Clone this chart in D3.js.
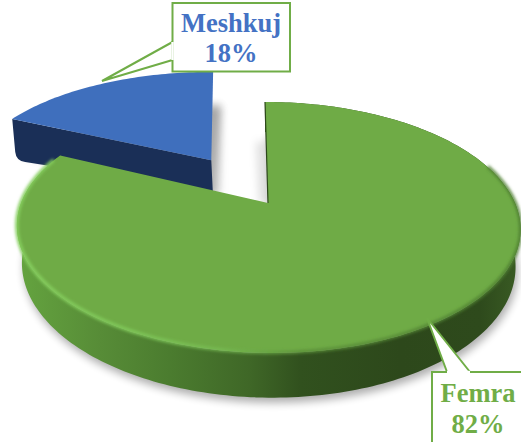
<!DOCTYPE html>
<html>
<head>
<meta charset="utf-8">
<script src="https://cdn.jsdelivr.net/npm/d3@7"></script>
<style>
  html, body { margin: 0; padding: 0; background: #fff; overflow: hidden; }
  text { font-family: "Liberation Serif", serif; font-weight: bold; text-anchor: middle; }
</style>
</head>
<body>
<div id="chart"></div>
<script>
// data
const labels = ["Femra", "Meshkuj"]
const values = [82, 18]
const percents = ["82%", "18%"]
const explode = [0, 0.45]
const stretch = [1, 1.035]   // the blue slice is drawn a bit wider in the original

const topColors = ["#6fab46", "#3f6fbd"]
const labelColors = ["#70ad47", "#4472c4"]

const WIDTH = 521
const HEIGHT = 442

// disc placement, fitted to the picture
const CX = 268
const CY = 203
const RX = 247
const RY = 120.7
const PERSP = 0.195   // how much the back of the disc shrinks
const SKEW = -3.6
const DEPTH = 36

const xScale = d3.scaleLinear().domain([-1, 1]).range([CX - RX, CX + RX])
const yScale = d3.scaleLinear().domain([-1, 1]).range([CY + RY, CY - RY])

const svg = d3.select("#chart").append("svg")
  .attr("width", WIDTH)
  .attr("height", HEIGHT)
  .style("display", "block")

const defs = svg.append("defs")

function blur(id, dev) {
  defs.append("filter").attr("id", id)
    .attr("x", "-20%").attr("y", "-20%").attr("width", "140%").attr("height", "140%")
    .append("feGaussianBlur").attr("stdDeviation", dev)
}
blur("shadowBlur", 4)
blur("edgeBlur", 1.8)

function gradient(id, stops) {
  const g = defs.append("linearGradient").attr("id", id)
    .attr("gradientUnits", "userSpaceOnUse")
    .attr("x1", 0).attr("x2", WIDTH).attr("y1", 0).attr("y2", 0)
  stops.forEach(s => {
    g.append("stop").attr("offset", s[0] / WIDTH).attr("stop-color", s[1]).attr("stop-opacity", s[2] === undefined ? 1 : s[2])
  })
}
gradient("rimGreen", [[20, "#64a33f"], [100, "#578c37"], [170, "#4b7c2f"], [250, "#3f6727"], [300, "#31511e"], [400, "#2d481b"], [480, "#2e4a1c"], [521, "#3a5c24"]])
gradient("bevelGreen", [[15, "#86cf5e", 1], [130, "#7fc759", 1], [220, "#78bd54", 0.8], [300, "#5b9039", 0.9], [521, "#4e7f30", 0.9]])

// depth level h: 0 = top of the disc, 1 = bottom of it
function project(angle, r, h, i, midAngle) {
  const u = explode[i] * Math.sin(midAngle) + r * stretch[i] * Math.sin(angle)
  const v = explode[i] * Math.cos(midAngle) + r * Math.cos(angle)
  const s = 1 / (1 + PERSP * v)
  const shrink = 1 - 0.02 * h
  return [
    CX + (xScale(u * s) - CX) * shrink + SKEW * v * s,
    yScale(v * s) + DEPTH * h * s
  ]
}

const line = d3.line()
const closed = pts => line(pts) + "Z"

function arcPoints(d, i, h, from, to) {
  const mid = (d.startAngle + d.endAngle) / 2
  const n = Math.max(2, Math.ceil(Math.abs(to - from) / 0.02))
  return d3.range(n + 1).map(k => project(from + (to - from) * k / n, 1, h, i, mid))
}

const pie = d3.pie().sort(null)
const slices = pie(values)
const femra = slices[0]
const meshkuj = slices[1]
const bMid = (meshkuj.startAngle + meshkuj.endAngle) / 2

const bApexTop = project(0, 0, 0, 1, bMid)
const bApexBot = project(0, 0, 1, 1, bMid)
const bCornerTop = project(meshkuj.startAngle, 1, 0, 1, bMid)
const bCornerBot = project(meshkuj.startAngle, 1, 1.35, 1, bMid)
const bEndTop = project(meshkuj.endAngle, 1, 0, 1, bMid)

const gApexTop = project(0, 0, 0, 0, 0)
const gStartTop = project(femra.startAngle, 1, 0, 0, 0)

// the blue slice leans a little, its cut edge stands upright in the original
const blueLean = `translate(0,${bApexTop[1]}) skewX(2.6) translate(0,${-bApexTop[1]})`

// soft shadow under both slices
const shadow = svg.append("g").attr("filter", "url(#shadowBlur)").attr("fill", "#000").attr("opacity", 0.32)
slices.forEach((d, i) => {
  const mid = (d.startAngle + d.endAngle) / 2
  const pts = arcPoints(d, i, 1, d.startAngle, d.endAngle)
  pts.push(project(0, 0, 1, i, mid))
  shadow.append("path").attr("d", closed(pts)).attr("transform", "translate(2,5)")
})

// faint shadow in the gap between the two slices
const gapShadow = svg.append("g").attr("filter", "url(#shadowBlur)")
  .attr("fill", "none").attr("stroke", "#000").attr("stroke-opacity", 0.2).attr("stroke-width", 5)
gapShadow.append("path")
  .attr("transform", blueLean)
  .attr("d", line([[bEndTop[0] + 3, bEndTop[1] + 35], [bApexBot[0] + 3, bApexBot[1]]]))
gapShadow.append("path")
  .attr("d", line([[gStartTop[0] - 5, gStartTop[1] + 40], [gApexTop[0] - 5, gApexTop[1]]]))

// ---- Meshkuj ----
const blue = svg.append("g").attr("transform", blueLean)
const face = d3.path()
face.moveTo(bCornerTop[0], bCornerTop[1])
face.lineTo(bApexTop[0], bApexTop[1])
face.lineTo(bApexBot[0] - 1, bApexBot[1] - 2)
face.lineTo(bCornerTop[0] + 11, bCornerBot[1] + 1)
face.quadraticCurveTo(bCornerTop[0] + 2, bCornerBot[1], bCornerTop[0] + 1.5, bCornerBot[1] - 9)
face.closePath()
blue.append("path").attr("d", face.toString()).attr("fill", "#1a2f57")
blue.append("path")
  .attr("d", closed(arcPoints(meshkuj, 1, 0, meshkuj.startAngle, meshkuj.endAngle).concat([bApexTop])))
  .attr("fill", topColors[1])

// ---- Femra ----
const green = svg.append("g")

// rim
green.append("path")
  .attr("d", closed(
    arcPoints(femra, 0, 0, femra.startAngle, femra.endAngle)
      .concat(arcPoints(femra, 0, 1, femra.endAngle, femra.startAngle))))
  .attr("fill", "url(#rimGreen)")

// top face
const topPts = arcPoints(femra, 0, 0, femra.startAngle, femra.endAngle).concat([gApexTop])
green.append("path").attr("d", closed(topPts)).attr("fill", topColors[0])

// bevel along the front edge
green.append("path")
  .attr("d", line(arcPoints(femra, 0, 0, 1.25, 5.1).map(p => [p[0], p[1] - 0.5])))
  .attr("fill", "none")
  .attr("stroke", "url(#bevelGreen)")
  .attr("stroke-width", 3.5)
  .attr("filter", "url(#edgeBlur)")

// thin dark cut at the start of the slice
green.append("path")
  .attr("d", line([gStartTop, gApexTop]))
  .attr("fill", "none")
  .attr("stroke", "#2d481b")
  .attr("stroke-width", 1.2)

// ---- callouts ----
const callouts = [
  { i: 1, box: [172.5, 3, 117.5, 68.5], leader: [[172.5, 42], [102, 81], [172.5, 60]], text: [231, 32, 62] },
  { i: 0, box: [432, 372, 110, 90], leader: [[447, 372], [427, 318], [470, 372]], text: [478, 402, 433] }
]

const callout = svg.selectAll("g.callout").data(callouts).join("g").attr("class", "callout")
callout.append("path")
  .attr("d", d => line(d.leader))
  .attr("fill", "#fff")
  .attr("stroke", "#70ad47")
  .attr("stroke-width", 2)
callout.append("rect")
  .attr("x", d => d.box[0]).attr("y", d => d.box[1])
  .attr("width", d => d.box[2]).attr("height", d => d.box[3])
  .attr("fill", "#fff")
  .attr("stroke", "#70ad47")
  .attr("stroke-width", 2)
// leave the box open where the leader joins it
callout.append("path")
  .attr("d", d => line([d.leader[0], d.leader[2]]))
  .attr("stroke", "#fff")
  .attr("stroke-width", 2.4)
  .attr("fill", "none")
callout.append("text")
  .attr("x", d => d.text[0]).attr("y", d => d.text[1])
  .attr("font-size", 26.5)
  .attr("fill", d => labelColors[d.i])
  .text(d => labels[d.i])
callout.append("text")
  .attr("x", d => d.text[0]).attr("y", d => d.text[2])
  .attr("font-size", 26.5)
  .attr("fill", d => labelColors[d.i])
  .text(d => percents[d.i])
</script>
</body>
</html>
